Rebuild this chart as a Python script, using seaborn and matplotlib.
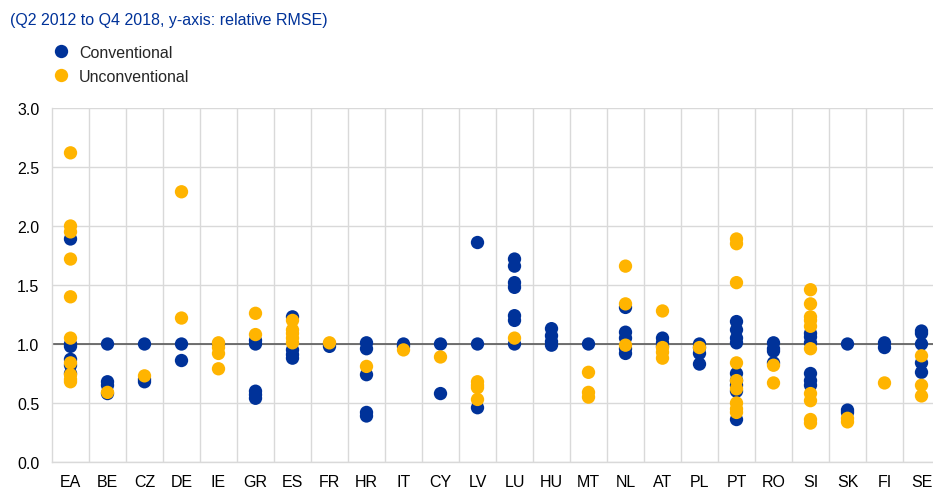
import numpy as np
import pandas as pd
import matplotlib
matplotlib.use("Agg")
import matplotlib.pyplot as plt
import seaborn as sns

# country codes on the x axis
countries = ["EA", "BE", "CZ", "DE", "IE", "GR", "ES", "FR", "HR", "IT", "CY", "LV",
             "LU", "HU", "MT", "NL", "AT", "PL", "PT", "RO", "SI", "SK", "FI", "SE"]

# relative RMSE, conventional models
conventional = {
    "EA": [1.89, 1.0, 0.98, 0.87, 0.82, 0.75],
    "BE": [1.0, 0.68, 0.65, 0.58],
    "CZ": [1.0, 0.70, 0.68],
    "DE": [1.0, 0.86],
    "IE": [1.0],
    "GR": [1.03, 1.0, 0.60, 0.57, 0.54],
    "ES": [1.23, 0.95, 0.91, 0.88],
    "FR": [1.0, 0.98],
    "HR": [1.01, 0.96, 0.74, 0.42, 0.39],
    "IT": [1.0, 0.98],
    "CY": [1.0, 0.58],
    "LV": [1.86, 1.0, 0.46],
    "LU": [1.72, 1.66, 1.52, 1.48, 1.24, 1.20, 1.0],
    "HU": [1.13, 1.07, 1.02, 0.99],
    "MT": [1.0],
    "NL": [1.31, 1.10, 1.05, 0.96, 0.92],
    "AT": [1.05, 1.01, 0.98],
    "PL": [1.0, 0.97, 0.92, 0.83],
    "PT": [1.19, 1.12, 1.05, 1.01, 0.75, 0.69, 0.65, 0.60, 0.36],
    "RO": [1.01, 0.96, 0.94, 0.84],
    "SI": [1.09, 1.06, 1.01, 0.75, 0.69, 0.65],
    "SK": [1.0, 0.44, 0.42],
    "FI": [1.01, 0.97],
    "SE": [1.11, 1.09, 1.0, 0.84, 0.76],
}

# relative RMSE, unconventional models
unconventional = {
    "EA": [2.62, 2.0, 1.95, 1.72, 1.40, 1.05, 0.84, 0.74, 0.70, 0.68],
    "BE": [0.59],
    "CZ": [0.73],
    "DE": [2.29, 1.22],
    "IE": [1.01, 0.97, 0.92, 0.79],
    "GR": [1.26, 1.08],
    "ES": [1.20, 1.12, 1.09, 1.05, 1.01],
    "FR": [1.01],
    "HR": [0.81],
    "IT": [0.95],
    "CY": [0.89],
    "LV": [0.68, 0.65, 0.63, 0.53],
    "LU": [1.05],
    "HU": [],
    "MT": [0.76, 0.59, 0.55],
    "NL": [1.66, 1.34, 0.99],
    "AT": [1.28, 0.97, 0.93, 0.88],
    "PL": [0.97],
    "PT": [1.89, 1.85, 1.52, 0.84, 0.69, 0.62, 0.50, 0.45, 0.42],
    "RO": [0.82, 0.67],
    "SI": [1.46, 1.34, 1.23, 1.20, 1.15, 0.96, 0.58, 0.52, 0.36, 0.33],
    "SK": [0.37, 0.34],
    "FI": [0.67],
    "SE": [0.90, 0.65, 0.56],
}

y_ticks = [0.0, 0.5, 1.0, 1.5, 2.0, 2.5, 3.0]

BLUE = "#003299"
YELLOW = "#FFB400"
FS = 11.5

rows = []
for name, series in [("Conventional", conventional), ("Unconventional", unconventional)]:
    for c in countries:
        for v in series[c]:
            rows.append({"country": c, "rmse": v, "type": name})
df = pd.DataFrame(rows)

sns.set_style("white")
plt.rcParams["font.family"] = ["Liberation Sans", "DejaVu Sans"]

fig = plt.figure(figsize=(9.33, 4.89), dpi=100)
ax = fig.add_axes([52 / 933, 26 / 489, 888 / 933, 354 / 489])

sns.stripplot(data=df, x="country", y="rmse", hue="type", order=countries,
              hue_order=["Conventional", "Unconventional"],
              palette={"Conventional": BLUE, "Unconventional": YELLOW},
              jitter=False, dodge=False, size=9.6, linewidth=0, ax=ax, zorder=3)

ax.set_xlim(-0.5, len(countries) - 0.5)
ax.set_ylim(0, 3.0)
ax.set_yticks(y_ticks)
ax.set_yticklabels([f"{t:.1f}" for t in y_ticks])
ax.set_xticks(np.arange(len(countries)) + 0.5, minor=True)
ax.grid(True, axis="y", color="#d9d9d9", linewidth=1)
ax.grid(True, axis="x", which="minor", color="#d9d9d9", linewidth=1)
ax.grid(False, axis="x", which="major")
ax.axhline(1.0, color="#595959", linewidth=1.2, zorder=2)
ax.set_axisbelow(True)

for side in ["top", "right"]:
    ax.spines[side].set_visible(False)
for side in ["left", "bottom"]:
    ax.spines[side].set_color("#d9d9d9")
    ax.spines[side].set_linewidth(1)

ax.tick_params(axis="both", which="both", length=0, labelsize=FS, colors="#000000")
ax.tick_params(axis="y", pad=9)
ax.tick_params(axis="x", pad=8.5)
ax.set_xlabel("")
ax.set_ylabel("")

ax.legend(loc="upper left", bbox_to_anchor=(55 / 933, 1 - 46 / 489),
          bbox_transform=fig.transFigure, frameon=False, fontsize=FS,
          handlelength=0.8, handletextpad=0.7, labelspacing=0.55, borderpad=0,
          borderaxespad=0)

fig.text(10 / 933, 1 - 20 / 489, "(Q2 2012 to Q4 2018, y-axis: relative RMSE)",
         color="#003299", fontsize=FS, va="center", ha="left")

fig.savefig("out.png", dpi=100)
